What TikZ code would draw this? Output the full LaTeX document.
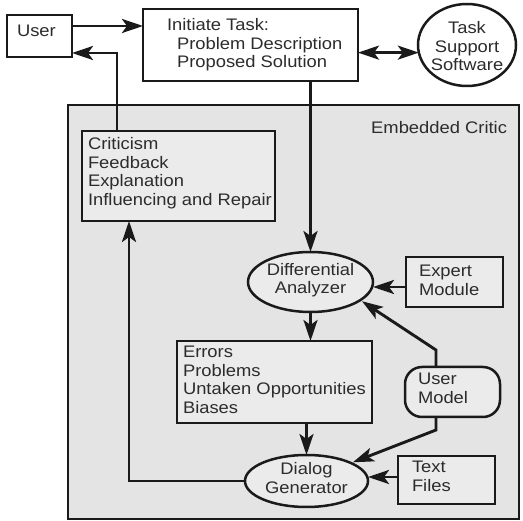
\documentclass[tikz,border=0pt]{standalone}
\usepackage{fontspec}
\setmainfont{Liberation Sans}[FakeStretch=1.1]
\usetikzlibrary{arrows.meta,shapes.geometric}
\definecolor{ink}{HTML}{1A1A1A}
\definecolor{txtink}{HTML}{2C2C2C}
\definecolor{critbg}{HTML}{E4E4E4}
\definecolor{boxbg}{HTML}{EBEBEB}
\begin{document}
\begin{tikzpicture}[x=1pt,y=-1pt,
  every node/.style={inner sep=0pt, outer sep=0pt},
  boxnode/.style={draw=ink, line width=2.5pt, rectangle},
  ovalnode/.style={draw=ink, line width=2.5pt, ellipse},
  txt/.style={font=\fontsize{16.7}{18.5}\selectfont, text=txtink, align=left},
  ctxt/.style={txt, align=center},
  tip/.tip={Stealth[length=21pt,width=14pt,inset=5pt]},
  conn/.style={draw=ink, line width=2.9pt, -tip},
  conntwo/.style={draw=ink, line width=2.9pt, tip-tip}
]
\useasboundingbox (0,0) rectangle (523,521);
\fill[white] (0,0) rectangle (523,521);

% outer embedded critic region
\node[boxnode, fill=critbg, minimum width=451pt, minimum height=414pt] (critic) at (293.5,312) {};

% boxes
\node[boxnode, fill=white, minimum width=65pt, minimum height=42pt] (user) at (39.5,36) {};
\node[boxnode, fill=white, minimum width=215pt, minimum height=72pt] (init) at (250.5,45) {};
\node[ovalnode, fill=white, minimum width=98pt, minimum height=82pt] (tss) at (467,45) {};
\node[boxnode, fill=boxbg, minimum width=193pt, minimum height=90pt] (crit) at (178.5,176) {};
\node[ovalnode, fill=boxbg, minimum width=125pt, minimum height=60pt] (diff) at (310.5,282) {};
\node[boxnode, fill=boxbg, minimum width=97pt, minimum height=50pt] (expert) at (454.5,282) {};
\node[boxnode, fill=boxbg, minimum width=195pt, minimum height=82pt] (errors) at (274.5,382) {};
\node[boxnode, fill=boxbg, rounded corners=17pt, minimum width=95pt, minimum height=50pt] (umodel) at (452.5,392) {};
\node[ovalnode, fill=boxbg, minimum width=123pt, minimum height=52pt] (dialog) at (306.5,481) {};
\node[boxnode, fill=boxbg, minimum width=97pt, minimum height=48pt] (tfiles) at (446.5,480) {};

% helper coordinates
\coordinate (yA) at (0,26);
\coordinate (yB) at (0,53);
\coordinate (xA) at (117,0);
\coordinate (xB) at (129,0);
\coordinate (yC) at (0,287);
\coordinate (yD) at (0,477);
\coordinate (umTop) at (436,350);
\coordinate (umBot) at (436,430);

% connectors
\draw[conn] (user.east |- yA) -- (init.west |- yA);
\draw[conn] (crit.north -| xA) |- (user.east |- yB);
\draw[conntwo] (init.east |- tss.189) -- (tss.189);
\draw[conn] (init.south -| diff.north) -- (diff.north);
\draw[conn] (expert.west |- yC) -- (diff.east |- yC);
\draw[conn] (diff.south) -- (diff.south |- errors.north);
\draw[conn] (errors.south -| dialog.north) -- (dialog.north);
\draw[conn] (dialog.west) -| (crit.south -| xB);
\draw[conn] (tfiles.west |- yD) -- (dialog.east |- yD);
\draw[conn, shorten >=2pt] (umodel.north -| umTop) -- (umTop) -- (diff.-20);
\draw[conn, shorten >=2pt] (umodel.south -| umBot) -- (umBot) -- (dialog.22);

% texts (base anchor = baseline of last line)
\node[txt, anchor=base west] (userT) at (17,37) {User};
\node[txt, anchor=base west] (initT) at (167,68) {Initiate Task:\\\hspace*{10pt}Problem Description\\\hspace*{10pt}Proposed Solution};
\node[ctxt, anchor=base] (tssT) at (467,71) {Task\\Support\\Software};
\node[txt, anchor=base east] (embT) at (507,134) {Embedded Critic};
\node[txt, anchor=base west] (critT) at (88,205.5) {Criticism\\Feedback\\Explanation\\Influencing and Repair};
\node[ctxt, anchor=base] (diffT) at (310.5,294) {Differential\\Analyzer};
\node[txt, anchor=base west] (expertT) at (419,295.5) {Expert\\Module};
\node[txt, anchor=base west] (errorsT) at (183,413.5) {Errors\\Problems\\Untaken Opportunities\\Biases};
\node[txt, anchor=base west] (umodelT) at (418,403.5) {User\\Model};
\node[ctxt, anchor=base] (dialogT) at (306.5,493.5) {Dialog\\Generator};
\node[txt, anchor=base west] (tfilesT) at (412,491.5) {Text\\Files};
\end{tikzpicture}
\end{document}
